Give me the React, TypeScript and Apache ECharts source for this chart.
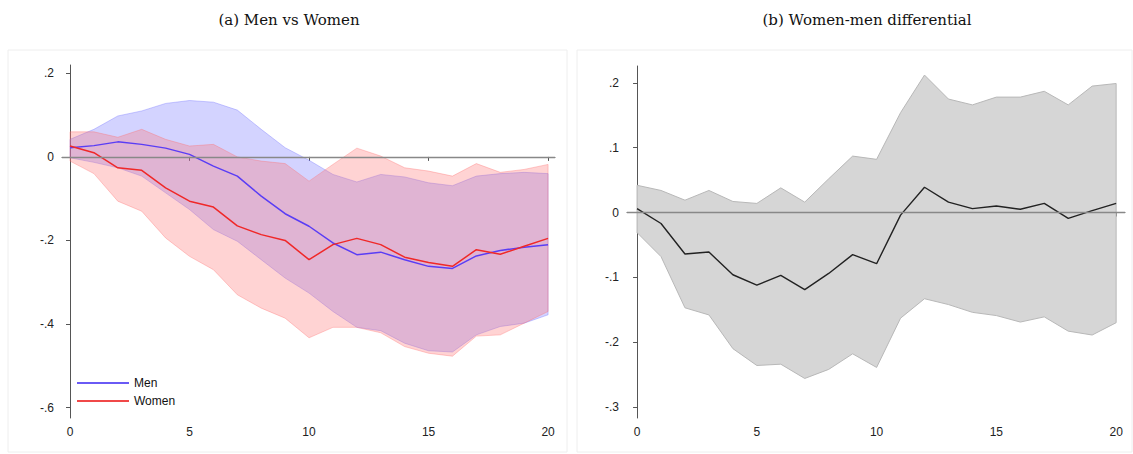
import React, { useEffect, useRef } from "react";
import * as echarts from "echarts";

const horizon = Array.from({ length: 21 }, (_, i) => i);

const menMean = [0.022, 0.027, 0.036, 0.03, 0.021, 0.006, -0.022, -0.046, -0.094, -0.136, -0.166, -0.206, -0.234, -0.228, -0.246, -0.262, -0.267, -0.237, -0.224, -0.216, -0.21];
const menUpper = [0.042, 0.066, 0.098, 0.11, 0.128, 0.135, 0.131, 0.112, 0.066, 0.022, -0.008, -0.042, -0.06, -0.042, -0.048, -0.062, -0.069, -0.046, -0.04, -0.037, -0.04];
const menLower = [-0.002, -0.013, -0.026, -0.046, -0.086, -0.126, -0.174, -0.202, -0.246, -0.29, -0.326, -0.37, -0.408, -0.416, -0.446, -0.464, -0.467, -0.426, -0.406, -0.398, -0.378];

const womenMean = [0.026, 0.01, -0.026, -0.032, -0.074, -0.106, -0.12, -0.165, -0.186, -0.2, -0.246, -0.21, -0.195, -0.21, -0.24, -0.253, -0.262, -0.222, -0.233, -0.214, -0.195];
const womenUpper = [0.06, 0.06, 0.047, 0.066, 0.042, 0.026, 0.03, 0.0, -0.01, -0.016, -0.058, -0.018, 0.021, 0.002, -0.026, -0.034, -0.046, -0.016, -0.037, -0.03, -0.018];
const womenLower = [-0.01, -0.04, -0.106, -0.13, -0.194, -0.238, -0.27, -0.33, -0.362, -0.386, -0.433, -0.408, -0.408, -0.421, -0.454, -0.47, -0.477, -0.429, -0.426, -0.398, -0.37];

const diffMean = [0.006, -0.017, -0.064, -0.061, -0.096, -0.112, -0.097, -0.119, -0.094, -0.065, -0.079, -0.004, 0.039, 0.016, 0.006, 0.01, 0.005, 0.014, -0.009, 0.003, 0.014];
const diffUpper = [0.042, 0.034, 0.019, 0.034, 0.017, 0.014, 0.038, 0.016, 0.052, 0.087, 0.082, 0.154, 0.212, 0.175, 0.166, 0.178, 0.178, 0.187, 0.166, 0.195, 0.199];
const diffLower = [-0.031, -0.068, -0.147, -0.158, -0.21, -0.236, -0.234, -0.256, -0.242, -0.218, -0.239, -0.163, -0.133, -0.142, -0.154, -0.159, -0.169, -0.161, -0.183, -0.189, -0.17];

const xTicks = [0, 5, 10, 15, 20];
const yTicksA = [-0.6, -0.4, -0.2, 0, 0.2];
const yTicksB = [-0.3, -0.2, -0.1, 0, 0.1, 0.2];

const fmt = (v: number) => {
  const r = Math.round(v * 10) / 10;
  if (r === 0) return "0";
  return (r < 0 ? "-" : "") + String(Math.abs(r)).replace(/^0/, "");
};

const pairs = (ys: number[]) => ys.map((y, i) => [horizon[i], y]);

// confidence band drawn as one polygon through the axis scales
const band = (lower: number[], upper: number[], idx: number, fill: string, edge: string) => ({
  type: "custom",
  xAxisIndex: idx,
  yAxisIndex: idx,
  silent: true,
  z: 1,
  data: horizon.map((x, i) => [x, lower[i], upper[i]]),
  encode: { x: 0, y: [1, 2] },
  renderItem: (params: any, api: any) => {
    if (params.dataIndex !== 0) return null;
    const top = horizon.map((x, i) => api.coord([x, upper[i]]));
    const bot = horizon.map((x, i) => api.coord([x, lower[i]]));
    return {
      type: "group",
      children: [
        { type: "polygon", shape: { points: [...top, ...bot.slice().reverse()] }, style: { fill, stroke: edge, lineWidth: 1 } },
      ],
    };
  },
});

const axisCommon = {
  axisLine: { show: true, lineStyle: { color: "#555", width: 1 } },
  axisTick: { show: true, length: 4, lineStyle: { color: "#555" } },
  splitLine: { show: false },
  axisLabel: { color: "#222", fontFamily: "Liberation Sans, Arial", fontSize: 12 },
};

const App: React.FC = () => {
  const ref = useRef<HTMLDivElement>(null);

  useEffect(() => {
    if (!ref.current) return;
    const chart = echarts.init(ref.current, undefined, { renderer: "svg" });
    const zero = {
      silent: true, symbol: "none", label: { show: false },
      lineStyle: { color: "#888", width: 1.3, type: "solid" },
      data: [{ yAxis: 0 }],
    };
    chart.setOption({
      animation: false,
      backgroundColor: "#fff",
      graphic: [
        { type: "rect", shape: { x: 8, y: 50, width: 559, height: 402 }, style: { fill: "none", stroke: "#eee" } },
        { type: "rect", shape: { x: 577, y: 50, width: 555, height: 402 }, style: { fill: "none", stroke: "#eee" } },
      ],
      title: [
        { text: "(a) Men vs Women", left: 284, top: 7, textAlign: "center", textStyle: { fontFamily: "DejaVu Serif", fontWeight: "normal", fontSize: 15, color: "#111" } },
        { text: "(b) Women-men differential", left: 862, top: 7, textAlign: "center", textStyle: { fontFamily: "DejaVu Serif", fontWeight: "normal", fontSize: 15, color: "#111" } },
      ],
      legend: {
        data: ["Men", "Women"], orient: "vertical", left: 72, top: 372, itemGap: 6,
        itemWidth: 52, itemHeight: 2, icon: "rect",
        textStyle: { fontFamily: "Liberation Sans, Arial", fontSize: 12, color: "#111" },
      },
      grid: [
        { left: 62, top: 65, width: 493, height: 353 },
        { left: 627, top: 66, width: 498, height: 352 },
      ],
      xAxis: [
        { ...axisCommon, type: "value", gridIndex: 0, min: -0.335, max: 20.29,
          axisLabel: { ...axisCommon.axisLabel, customValues: xTicks }, axisTick: { ...axisCommon.axisTick, customValues: xTicks } },
        { ...axisCommon, type: "value", gridIndex: 1, min: -0.42, max: 20.37,
          axisLabel: { ...axisCommon.axisLabel, customValues: xTicks }, axisTick: { ...axisCommon.axisTick, customValues: xTicks } },
      ],
      yAxis: [
        { ...axisCommon, type: "value", gridIndex: 0, min: -0.625, max: 0.22,
          axisLabel: { ...axisCommon.axisLabel, customValues: yTicksA, formatter: fmt }, axisTick: { ...axisCommon.axisTick, customValues: yTicksA } },
        { ...axisCommon, type: "value", gridIndex: 1, min: -0.317, max: 0.226,
          axisLabel: { ...axisCommon.axisLabel, customValues: yTicksB, formatter: fmt }, axisTick: { ...axisCommon.axisTick, customValues: yTicksB } },
      ],
      series: [
        band(menLower, menUpper, 0, "rgba(110,110,255,0.3)", "rgba(110,110,255,0.35)"),
        band(womenLower, womenUpper, 0, "rgba(255,110,110,0.3)", "rgba(255,110,110,0.35)"),
        { type: "line", name: "Men", z: 3, data: pairs(menMean), symbol: "none", lineStyle: { color: "#5a3df5", width: 1.5 }, itemStyle: { color: "#6a5af5" }, markLine: zero },
        { type: "line", name: "Women", z: 3, data: pairs(womenMean), symbol: "none", lineStyle: { color: "#f02828", width: 1.5 }, itemStyle: { color: "#f04848" } },
        band(diffLower, diffUpper, 1, "#d6d6d6", "#b8b8b8"),
        { type: "line", name: "diff", z: 3, xAxisIndex: 1, yAxisIndex: 1, data: pairs(diffMean), symbol: "none", lineStyle: { color: "#222", width: 1.4 }, markLine: zero },
      ],
    });
    return () => chart.dispose();
  }, []);

  return <div ref={ref} style={{ position: "fixed", left: 0, top: 0, width: 1133, height: 454 }} />;
};

export default App;
